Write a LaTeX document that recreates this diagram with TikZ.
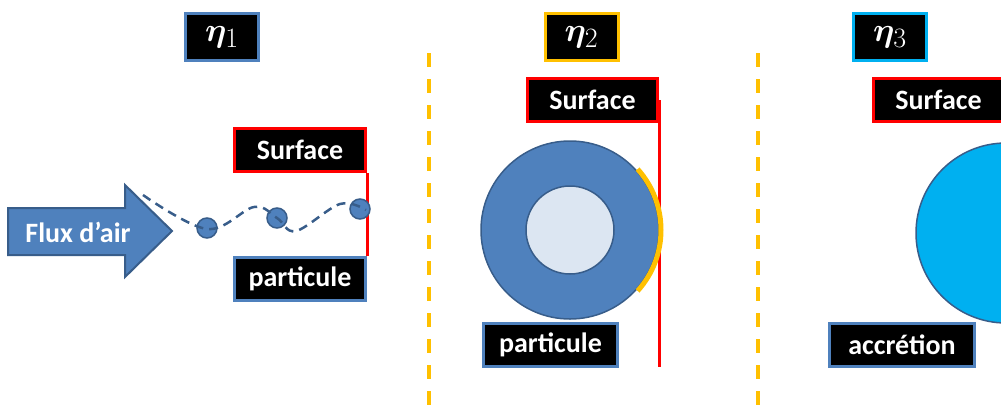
\documentclass[tikz,border=0pt]{standalone}
\usepackage{fontspec}
\setmainfont{Carlito}
\usepackage{amsmath}
\usepackage{bm}
\usepackage{xcolor}
\usetikzlibrary{calc,positioning}
\definecolor{airblue}{HTML}{4F81BD}
\definecolor{darkblue}{HTML}{385D8A}
\definecolor{gold}{HTML}{FFC000}
\definecolor{skyblue}{HTML}{00B0F0}
\definecolor{paleblue}{HTML}{DCE6F2}
\newcommand{\etaidx}[1]{\scalebox{1.35}{$\bm{\eta}_{#1}$}}

\begin{document}
\begin{tikzpicture}[x=1pt, y=-1pt,
  tag/.style={draw, line width=3pt, fill=black, text=white, inner sep=0pt, font=\fontsize{28}{32}\selectfont\bfseries},
  eta/.style={tag, minimum width=73pt, minimum height=47pt},
  lbl/.style={tag, minimum height=43pt},
  surf/.style={red, line width=3pt},
  sep/.style={gold, line width=4pt, dash pattern=on 14pt off 12pt},
  grain/.style={fill=airblue, draw=darkblue, line width=1.5pt},
  path/.style={darkblue, line width=2.5pt, dash pattern=on 9pt off 6pt}
]
\useasboundingbox (0,0) rectangle (1001,405);
\clip (0,0) rectangle (1001,405);
% ---- separators
\draw[sep] (429,53) -- (429,405);
\draw[sep] (758,53) -- (758,405);
% ---- (1) impaction
\node[eta, draw=airblue] (eta1) at (222,37) {\etaidx{1}};
\draw[fill=airblue, draw=darkblue, line width=2pt] (8,208) -- (125,208) -- (125,185) -- (172,231) -- (125,277) -- (125,255) -- (8,255) -- cycle;
\node[text=white, font=\fontsize{28}{32}\selectfont\bfseries] (flux) at (78,232) {Flux d’air};
\node[lbl, draw=red, minimum width=131pt] (surf1) at (300,150) {Surface};
\node[lbl, draw=airblue, minimum width=131pt] (part1) at (300,278.5) {particule};
\draw[surf] (surf1.south east) -- (part1.north east);
\foreach \p/\q in {207/228, 277/218, 360/209} { \draw[grain] (\p,\q) circle (10); }
\draw[path] plot[smooth, tension=0.6] coordinates {(143,195) (207,229) (254,207) (277,218) (296,231) (340,204) (366,210)};
% ---- (2) interception
\node[eta, draw=gold] (eta2) at (581.5,37) {\etaidx{2}};
\node[lbl, draw=red, minimum width=130pt] (surf2) at (592.5,100) {Surface};
\coordinate (foot2) at (660,367);
\draw[surf] (surf2.east) -- (surf2.east |- foot2);
\draw[fill=airblue, draw=darkblue, line width=1.5pt] (570,230) circle (89);
\draw[fill=paleblue, draw=darkblue, line width=1.5pt] (570,230) circle (44);
\draw[gold, line width=5pt] ($(570,230)+(-42:91)$) arc (-42:42:91);
\node[lbl, draw=airblue, minimum width=134pt] (part2) at (550.5,344.5) {particule};
% ---- (3) accretion
\node[eta, draw=skyblue] (eta3) at (890,37) {\etaidx{3}};
\node[lbl, draw=red, minimum width=130pt] (surf3) at (938.5,100) {Surface};
\draw[fill=skyblue, draw=darkblue, line width=1.5pt] (1006,233) circle (90);
\node[lbl, draw=airblue, minimum width=145pt] (acc) at (902,345) {accrétion};
\end{tikzpicture}
\end{document}
